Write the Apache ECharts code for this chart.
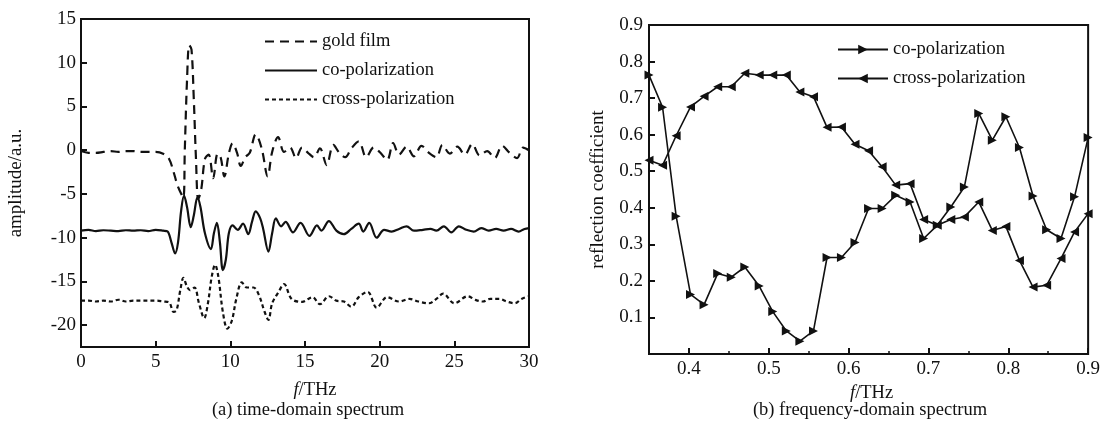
<!DOCTYPE html>
<html>
<head>
<meta charset="utf-8">
<script src="https://cdn.jsdelivr.net/npm/echarts@6/dist/echarts.min.js"></script>
<style>html,body{margin:0;padding:0;background:#fff}#c{width:1103px;height:427px}</style>
</head>
<body>
<div id="c"></div>
<script>
// ---- (a) time-domain spectrum ----
const goldT = [0,0.5,1,1.5,2,2.5,3,3.5,4,4.5,5,5.5,5.9,6.2,6.5,6.85,6.95,7.1,7.25,7.4,7.55,7.7,7.85,8.05,8.3,8.55,8.85,9.15,9.35,9.6,9.9,10.15,10.45,10.7,11.0,11.3,11.7,12.1,12.5,12.8,13.2,13.6,14.0,14.4,14.8,15.2,15.6,16.0,16.45,16.9,17.3,17.7,18.1,18.6,19.1,19.6,20.0,20.5,20.9,21.3,21.8,22.3,22.8,23.3,23.8,24.2,24.7,25.2,25.7,26.2,26.7,27.2,27.7,28.2,28.7,29.2,29.6,30.0];
const goldV = [-0.1,-0.3,-0.3,-0.2,-0.1,-0.2,-0.1,-0.1,-0.2,-0.2,-0.2,-0.4,-1.0,-2.5,-4.2,-5.4,0,8,12,11.5,6,-1,-5.6,-4.5,-1.0,-0.5,-3.2,-0.4,-0.8,-3.0,-0.4,0.8,-0.3,-1.8,-0.8,-0.3,1.8,0.2,-3.0,-0.2,1.5,-0.2,0.3,-0.9,0.3,-0.3,-0.8,0.2,-1.7,0.6,-0.3,-0.8,0.2,1.0,-0.8,0.3,-0.2,-1.1,0.8,-0.5,0.4,-0.7,0.5,-0.3,-0.8,0.6,-0.4,0.4,-0.5,0.7,-0.6,-0.1,-0.9,0.5,-0.3,-0.9,0.3,0.0];
const coT = [0,0.5,1,1.5,2,2.5,3,3.5,4,4.5,5,5.5,5.8,6.05,6.3,6.5,6.7,6.9,7.1,7.35,7.55,7.8,8.0,8.3,8.7,8.9,9.1,9.3,9.5,9.7,9.9,10.15,10.5,10.85,11.2,11.45,11.7,12.0,12.2,12.55,12.8,13.05,13.4,13.7,14.2,14.7,15.3,15.8,16.1,16.6,17.1,17.6,18.1,18.6,18.9,19.3,19.8,20.3,20.8,21.3,21.8,22.3,22.9,23.4,23.8,24.3,24.8,25.3,25.8,26.3,26.8,27.3,27.8,28.3,28.8,29.3,29.7,30];
const coV = [-9.2,-9.1,-9.25,-9.15,-9.2,-9.25,-9.15,-9.2,-9.15,-9.25,-9.1,-9.2,-9.3,-10.5,-11.8,-10.5,-7,-5.2,-6.5,-8.8,-7.5,-5.4,-6.5,-9.5,-11.3,-9.5,-8.3,-10.5,-13.7,-12.5,-9.5,-8.6,-9.1,-8.4,-9.6,-8.2,-7.0,-7.8,-9.0,-11.6,-9.5,-7.8,-8.7,-8.2,-9.4,-8.3,-9.8,-8.6,-9.2,-8.1,-9.2,-9.6,-9.0,-8.4,-9.3,-8.3,-10.0,-9.1,-9.3,-9.0,-8.7,-9.2,-9.1,-9.0,-9.2,-8.7,-9.4,-8.7,-9.1,-9.3,-8.9,-9.2,-9.0,-9.2,-9.0,-9.3,-9.0,-8.9];
const crossT = [0,0.5,1,1.5,2,2.5,3,3.5,4,4.5,5,5.5,5.9,6.2,6.4,6.65,6.86,7.1,7.3,7.6,7.9,8.25,8.5,8.75,8.98,9.2,9.5,9.8,10.1,10.4,10.77,11.1,11.55,11.9,12.3,12.55,12.8,13.2,13.6,14.1,14.8,15.5,16.0,16.6,17.1,17.6,18.1,18.6,19.2,19.8,20.5,21.3,22.0,22.6,23.3,23.8,24.25,25.0,25.9,26.4,26.9,27.4,28.0,28.5,29.05,29.5,30];
const crossV = [-17.2,-17.2,-17.3,-17.2,-17.3,-17.1,-17.3,-17.2,-17.2,-17.2,-17.2,-17.3,-17.4,-18.5,-18.3,-16,-14.6,-15.6,-16.0,-15.7,-17.5,-19.2,-17.5,-14.5,-13.1,-14.5,-18.5,-20.4,-19.5,-17,-15.1,-15.7,-15.7,-16.5,-18.5,-19.4,-17.5,-16.3,-15.3,-17.0,-17.35,-16.8,-17.6,-16.7,-17.2,-17.3,-17.9,-16.8,-16.2,-18.0,-16.8,-17.3,-17.0,-17.3,-17.5,-17.0,-16.4,-17.5,-16.7,-17.1,-17.3,-17.0,-17.0,-17.3,-17.5,-17.0,-16.7];
const leftYTicks = [-20,-15,-10,-5,0,5,10,15];

// ---- (b) frequency-domain spectrum ----
const freq = [0.350,0.367,0.384,0.402,0.419,0.436,0.453,0.470,0.488,0.505,0.522,0.539,0.556,0.573,0.591,0.608,0.625,0.642,0.659,0.677,0.694,0.711,0.728,0.745,0.763,0.780,0.797,0.814,0.831,0.848,0.866,0.883,0.900];
const coRefl = [0.763,0.675,0.377,0.163,0.135,0.220,0.210,0.238,0.186,0.116,0.063,0.035,0.063,0.264,0.264,0.305,0.398,0.398,0.434,0.416,0.316,0.352,0.402,0.457,0.658,0.585,0.649,0.565,0.432,0.340,0.316,0.430,0.592];
const crossRefl = [0.530,0.516,0.597,0.676,0.705,0.731,0.731,0.768,0.763,0.763,0.763,0.717,0.704,0.620,0.621,0.574,0.556,0.512,0.462,0.466,0.368,0.352,0.368,0.375,0.416,0.338,0.349,0.256,0.183,0.188,0.261,0.334,0.384];
const rightXMajor = [0.4,0.5,0.6,0.7,0.8,0.9];
const rightXMinor = [0.45,0.55,0.65,0.75,0.85];

const pairs = (a, b) => a.map((v, i) => [v, b[i]]);
const FONT = 'Liberation Serif, Times New Roman, serif';
const INK = '#111';
const txt = {fontFamily: FONT, fontSize: 19, color: INK};
const legTxt = {fontFamily: FONT, fontSize: 18.5, color: INK};

const chart = echarts.init(document.getElementById('c'), null, {renderer: 'canvas'});
chart.setOption({
  animation: false,
  backgroundColor: '#fff',
  textStyle: {fontFamily: FONT},
  grid: [
    {left: 81, right: 574, top: 19, bottom: 80, show: true, borderColor: INK, borderWidth: 2, backgroundColor: 'transparent'},
    {left: 649, right: 9, top: 25, bottom: 73, show: true, borderColor: INK, borderWidth: 2, backgroundColor: 'transparent'}
  ],
  legend: [
    {
      data: ['gold film', 'co-polarization ', 'cross-polarization '],
      orient: 'vertical', left: 259, top: 27, itemWidth: 52, itemHeight: 18, itemGap: 10,
      textStyle: legTxt, itemStyle: {opacity: 0}
    },
    {
      data: ['co-polarization', 'cross-polarization'],
      orient: 'vertical', left: 832, top: 35, itemWidth: 50, itemHeight: 12, itemGap: 10,
      textStyle: Object.assign({lineHeight: 18, height: 18}, legTxt)
    }
  ],
  xAxis: [
    {
      gridIndex: 0, type: 'value', min: 0, max: 30, interval: 5,
      name: '{i|f}/THz', nameLocation: 'middle', nameGap: 34,
      nameTextStyle: {fontFamily: FONT, fontSize: 18.5, color: INK, padding: [0, 0, 0, 20], rich: {i: {fontFamily: FONT, fontSize: 18.5, fontStyle: 'italic', color: INK}}},
      axisLine: {onZero: false, lineStyle: {color: INK, width: 2}},
      axisTick: {inside: true, length: 6, lineStyle: {color: INK, width: 2}},
      axisLabel: Object.assign({margin: 6}, txt),
      splitLine: {show: false}
    },
    {
      gridIndex: 1, type: 'value', min: 0.35, max: 0.9,
      name: '{i|f}/THz', nameLocation: 'middle', nameGap: 27,
      nameTextStyle: {fontFamily: FONT, fontSize: 18.5, color: INK, padding: [0, 0, 0, 6], rich: {i: {fontFamily: FONT, fontSize: 18.5, fontStyle: 'italic', color: INK}}},
      axisLine: {onZero: false, lineStyle: {color: INK, width: 2}},
      axisTick: {inside: true, length: 6, customValues: rightXMajor, lineStyle: {color: INK, width: 2}},
      axisLabel: Object.assign({margin: 6, customValues: rightXMajor, formatter: v => v.toFixed(1)}, txt),
      splitLine: {show: false}
    },
    {
      gridIndex: 1, type: 'value', min: 0.35, max: 0.9, position: 'bottom',
      axisLine: {show: false, onZero: false},
      axisTick: {inside: true, length: 3, customValues: rightXMinor, lineStyle: {color: INK, width: 1.5}},
      axisLabel: {show: false},
      splitLine: {show: false}
    }
  ],
  yAxis: [
    {
      gridIndex: 0, type: 'value', min: -22.5, max: 15,
      name: 'amplitude/a.u.', nameLocation: 'middle', nameGap: 55,
      nameTextStyle: {fontFamily: FONT, fontSize: 19, color: INK},
      axisLine: {onZero: false, lineStyle: {color: INK, width: 2}},
      axisTick: {inside: true, length: 6, customValues: leftYTicks, lineStyle: {color: INK, width: 2}},
      axisLabel: Object.assign({margin: 5, customValues: leftYTicks}, txt),
      splitLine: {show: false}
    },
    {
      gridIndex: 1, type: 'value', min: 0, max: 0.9, interval: 0.1,
      name: 'reflection coefficient', nameLocation: 'middle', nameGap: 41,
      nameTextStyle: {fontFamily: FONT, fontSize: 19, color: INK},
      axisLine: {onZero: false, lineStyle: {color: INK, width: 2}},
      axisTick: {inside: true, length: 6, lineStyle: {color: INK, width: 2}},
      axisLabel: Object.assign({margin: 6, formatter: v => (Math.abs(v) < 1e-9 ? '' : v.toFixed(1))}, txt),
      splitLine: {show: false}
    }
  ],
  series: [
    {
      name: 'gold film', type: 'line', xAxisIndex: 0, yAxisIndex: 0,
      data: pairs(goldT, goldV), smooth: 0.35, showSymbol: false, symbol: 'none',
      lineStyle: {color: INK, width: 2.2, type: [9, 6]}, itemStyle: {color: INK}
    },
    {
      name: 'co-polarization ', type: 'line', xAxisIndex: 0, yAxisIndex: 0,
      data: pairs(coT, coV), smooth: 0.35, showSymbol: false, symbol: 'none',
      lineStyle: {color: INK, width: 2.2, type: 'solid'}, itemStyle: {color: INK}
    },
    {
      name: 'cross-polarization ', type: 'line', xAxisIndex: 0, yAxisIndex: 0,
      data: pairs(crossT, crossV), smooth: 0.35, showSymbol: false, symbol: 'none',
      lineStyle: {color: INK, width: 2.2, type: [4, 3]}, itemStyle: {color: INK}
    },
    {
      name: 'co-polarization', type: 'line', xAxisIndex: 1, yAxisIndex: 1,
      data: pairs(freq, coRefl), symbol: 'triangle', symbolSize: 9, symbolRotate: -90,
      lineStyle: {color: INK, width: 1.6}, itemStyle: {color: INK}
    },
    {
      name: 'cross-polarization', type: 'line', xAxisIndex: 1, yAxisIndex: 1,
      data: pairs(freq, crossRefl), symbol: 'triangle', symbolSize: 9, symbolRotate: 90,
      lineStyle: {color: INK, width: 1.6}, itemStyle: {color: INK}
    }
  ],
  graphic: [
    {type: 'text', x: 308, y: 401, style: {text: '(a) time-domain spectrum', font: '18.5px "Liberation Serif"', fill: INK, textAlign: 'center'}},
    {type: 'text', x: 870, y: 401, style: {text: '(b) frequency-domain spectrum', font: '18.5px "Liberation Serif"', fill: INK, textAlign: 'center'}}
  ]
});
</script>
</body>
</html>
